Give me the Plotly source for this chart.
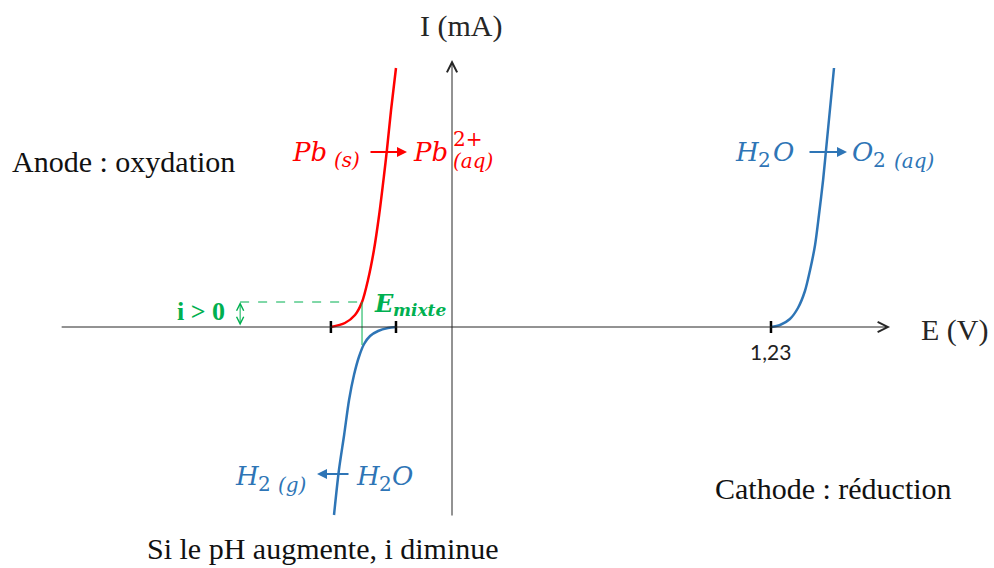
import plotly.graph_objects as go

# ---------------- data (E in V, I in arbitrary mA units) ----------------
pb_ox_E = [-0.467, -0.413, -0.374, -0.347, -0.324, -0.301, -0.281, -0.262, -0.251, -0.235, -0.216]
pb_ox_I = [0.0, 0.04, 0.12, 0.25, 0.47, 0.77, 1.12, 1.52, 1.77, 2.17, 2.59]

h2o_red_E = [-0.216, -0.247, -0.285, -0.316, -0.339, -0.359, -0.378, -0.397, -0.416, -0.436, -0.455]
h2o_red_I = [0.0, -0.01, -0.04, -0.09, -0.17, -0.30, -0.48, -0.73, -1.08, -1.43, -1.88]

h2o_ox_E = [1.230, 1.265, 1.303, 1.334, 1.361, 1.380, 1.400, 1.415, 1.431, 1.446, 1.458, 1.473]
h2o_ox_I = [0.0, 0.02, 0.08, 0.19, 0.36, 0.56, 0.82, 1.12, 1.47, 1.87, 2.19, 2.59]

tick_E = [-0.467, -0.216, 1.23]
tick_labels = ["", "", "1,23"]

E_mixte = -0.347
I_mixte = 0.25
I_mixte_low = -0.18
E_ind = -0.817          # position of the "i > 0" double arrow

X_RANGE = [-1.743, 2.090]
Y_RANGE = [-2.41, 3.27]
E_axis = [-1.511, 1.689]
I_axis = [-1.90, 2.67]

RED = "#FF0000"
BLUE = "#2E75B6"
GREEN = "#00B050"
AXC = "#262626"
SERIF = "Liberation Serif"
MATH = "DejaVu Serif"

W, H = 994, 568


def px(x):
    return x / W


def py(y):
    return 1 - y / H


fig = go.Figure()

for E, I, c in [(pb_ox_E, pb_ox_I, RED), (h2o_red_E, h2o_red_I, BLUE), (h2o_ox_E, h2o_ox_I, BLUE)]:
    fig.add_trace(go.Scatter(x=E, y=I, mode="lines", line=dict(color=c, width=2.5, shape="spline", smoothing=0.8),
                             hoverinfo="skip", showlegend=False))

shapes = []
for e in tick_E:
    shapes.append(dict(type="line", xref="x", yref="y", x0=e, x1=e, y0=-0.06, y1=0.06,
                       line=dict(color="black", width=2.5)))
shapes.append(dict(type="line", xref="x", yref="y", x0=E_ind, x1=E_mixte, y0=I_mixte, y1=I_mixte,
                   line=dict(color=GREEN, width=1, dash="dash")))
shapes.append(dict(type="line", xref="x", yref="y", x0=E_mixte, x1=E_mixte, y0=I_mixte, y1=I_mixte_low,
                   line=dict(color=GREEN, width=1)))

ann = []
ann.append(dict(x=E_axis[1], y=0, ax=E_axis[0], ay=0, xref="x", yref="y", axref="x", ayref="y",
                showarrow=True, arrowhead=5, arrowsize=2, arrowwidth=1, arrowcolor=AXC, text=""))
ann.append(dict(x=0, y=I_axis[1], ax=0, ay=I_axis[0], xref="x", yref="y", axref="x", ayref="y",
                showarrow=True, arrowhead=5, arrowsize=2, arrowwidth=1, arrowcolor=AXC, text=""))
ann.append(dict(x=E_ind, y=I_mixte, ax=E_ind, ay=0, xref="x", yref="y", axref="x", ayref="y",
                showarrow=True, arrowhead=5, startarrowhead=5, arrowside="end+start", arrowsize=1.4,
                startarrowsize=1.4, arrowwidth=1, arrowcolor=GREEN, text=""))

for e, t in zip(tick_E, tick_labels):
    if t:
        ann.append(dict(x=e, y=0, xref="x", yref="y", text=t, showarrow=False, yshift=-24,
                        font=dict(family="Lato", size=21, color="#222")))


def txt(t, x, y, size, color="black", family=SERIF, xanchor="left"):
    ann.append(dict(x=px(x), y=py(y), xref="paper", yref="paper", text=t, showarrow=False,
                    xanchor=xanchor, yanchor="middle", font=dict(family=family, size=size, color=color)))


def arr(x_head, y, dx, color):
    ann.append(dict(x=px(x_head), y=py(y), xref="paper", yref="paper", ax=dx, ay=0, text="",
                    showarrow=True, arrowhead=2, arrowsize=1, arrowwidth=2, arrowcolor=color))


txt("I (mA)", 461, 26, 30, AXC, xanchor="center")
txt("E (V)", 954, 330, 30, AXC, xanchor="center")

txt("Anode : oxydation", 10, 162, 30, "#111")
txt("Cathode : réduction", 713, 488, 30, "#111")
txt("Si le pH augmente, i diminue", 145, 548, 30, "#111")

# red reaction
txt("<i>Pb</i>", 290, 152, 26, RED, MATH)
txt("<i>(s)</i>", 332, 160, 20, RED, MATH)
arr(407, 152, -38, RED)
txt("<i>Pb</i>", 411, 152, 26, RED, MATH)
txt("2+", 451, 139, 20, RED, MATH)
txt("<i>(aq)</i>", 451, 161, 20, RED, MATH)

# blue anodic reaction
txt("<i>H</i>", 733, 152, 26, BLUE, MATH)
txt("2", 756, 160, 20, BLUE, MATH)
txt("<i>O</i>", 771, 152, 26, BLUE, MATH)
arr(847, 152, -39, BLUE)
txt("<i>O</i>", 850, 152, 26, BLUE, MATH)
txt("2", 871, 160, 20, BLUE, MATH)
txt("<i>(aq)</i>", 892, 161, 20, BLUE, MATH)

# blue cathodic reaction
txt("<i>H</i>", 233, 476, 26, BLUE, MATH)
txt("2", 256, 484, 20, BLUE, MATH)
txt("<i>(g)</i>", 276, 485, 20, BLUE, MATH)
arr(317, 474, 33, BLUE)
txt("<i>H</i>", 354, 476, 26, BLUE, MATH)
txt("2", 377, 484, 20, BLUE, MATH)
txt("<i>O</i>", 390, 476, 26, BLUE, MATH)

# green labels
txt("<b>i > 0</b>", 201, 311, 26, GREEN, SERIF, xanchor="center")
txt("<b><i>E</i></b>", 372, 303, 24, GREEN, MATH)
txt("<b><i>mixte</i></b>", 391, 310, 17, GREEN, MATH)

fig.update_layout(
    width=W, height=H, margin=dict(l=0, r=0, t=0, b=0),
    paper_bgcolor="white", plot_bgcolor="white",
    xaxis=dict(range=X_RANGE, visible=False, fixedrange=True),
    yaxis=dict(range=Y_RANGE, visible=False, fixedrange=True),
    shapes=shapes, annotations=ann, showlegend=False,
)

fig.write_html("out.html")
